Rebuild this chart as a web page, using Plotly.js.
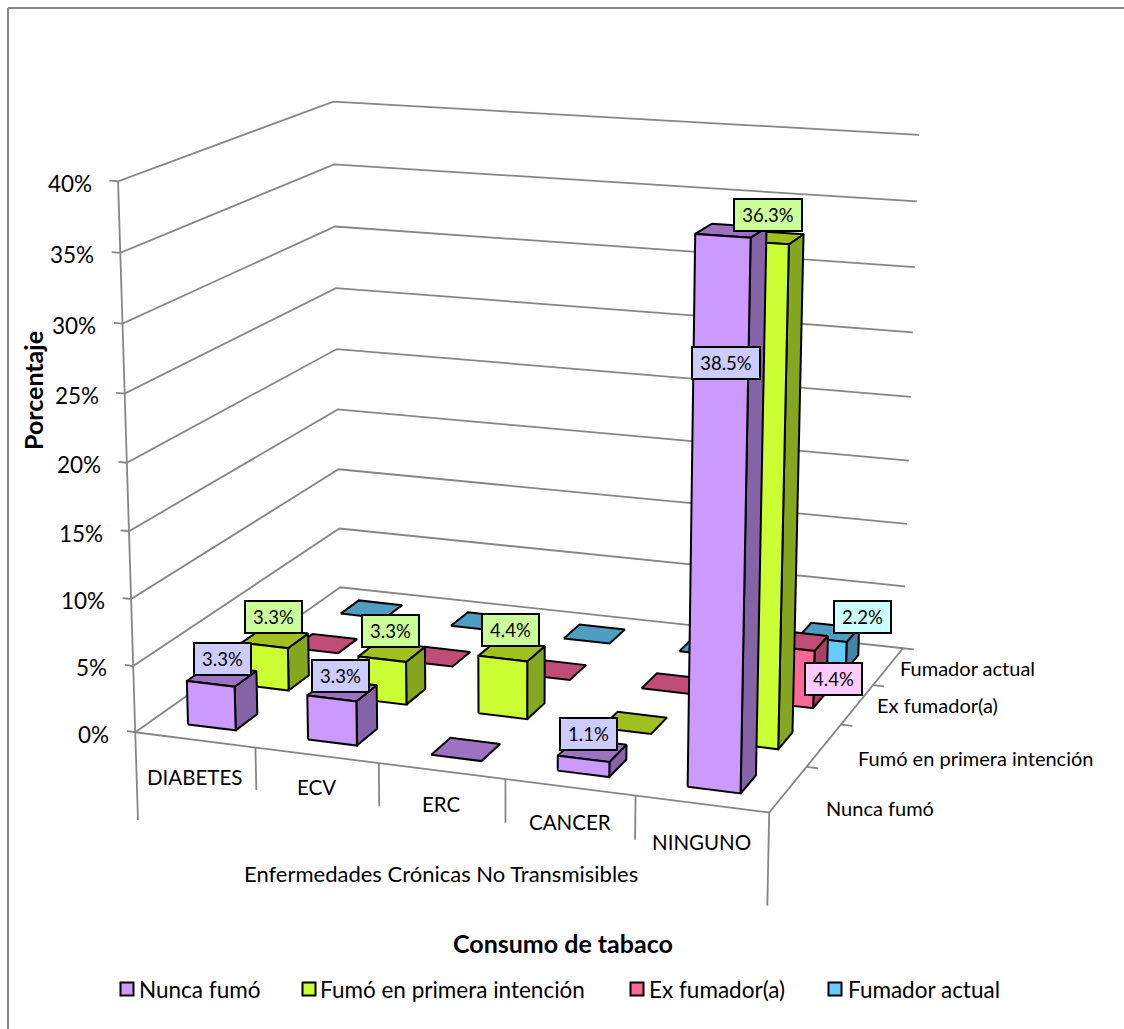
<!DOCTYPE html>
<html><head><meta charset="utf-8">
<script src="https://cdn.plot.ly/plotly-3.0.1.min.js"></script>
<style>html,body{margin:0;padding:0;background:#fff;overflow:hidden}#chart{width:1124px;height:1029px}</style>
</head><body><div id="chart"></div>
<script>
var categories = ["DIABETES","ECV","ERC","CANCER","NINGUNO"];
var seriesNames = ["Nunca fumó","Fumó en primera intención","Ex fumador(a)","Fumador actual"];
var nuncaFumo = [3.3,3.3,0,1.1,38.5];
var fumoPrimera = [3.3,3.3,4.4,0,36.3];
var exFumador = [0,0,0,0,4.4];
var fumadorActual = [0,0,0,0,2.2];
var valueTicks = [0,5,10,15,20,25,30,35,40];

var seriesValues = [nuncaFumo,fumoPrimera,exFumador,fumadorActual];
var frontCol = ["#CC99FF","#CCFF33","#FF6699","#66CCFF"];
var sideCol  = ["#8464A6","#85A61F","#A64263","#4285A6"];
var topCol   = ["#9E72C2","#A0C020","#BF4D78","#4F9DC0"];
var labelCol = ["#CCCCFF","#CCFF99","#FFCCFF","#CCFFFF"];
var FONT = "Lato, Carlito, sans-serif";

// view of the 3-D box: [category, series, value] -> page pixel
var viewCal = [[0,0,0,135.5,732.3],[0,0,40,118,181],[0,4,0,340,587.3],[0,4,40,333.3,101.7],
               [5,4,0,903.3,648],[5,4,40,919,135],[5,0,0,769,812.7]];
function solveView(){
  var A=[],b=[];
  viewCal.forEach(function(p){var X=p[0],Y=p[1],Z=p[2],u=p[3],w=p[4];
    A.push([X,Y,Z,1,0,0,0,0,-u*X,-u*Y,-u*Z]);b.push(u);
    A.push([0,0,0,0,X,Y,Z,1,-w*X,-w*Y,-w*Z]);b.push(w);});
  var n=11,M=[],i,j,k;
  for(i=0;i<n;i++){M.push([]);for(j=0;j<=n;j++){var t=0;
    for(k=0;k<A.length;k++)t+=A[k][i]*(j<n?A[k][j]:b[k]);M[i].push(t);}}
  for(i=0;i<n;i++){var m=i;for(k=i+1;k<n;k++)if(Math.abs(M[k][i])>Math.abs(M[m][i]))m=k;
    var sw=M[i];M[i]=M[m];M[m]=sw;
    for(k=0;k<n;k++)if(k!==i){var f=M[k][i]/M[i][i];for(j=i;j<=n;j++)M[k][j]-=f*M[i][j];}}
  var h=[];for(i=0;i<n;i++)h.push(M[i][n]/M[i][i]);return h;
}
var H=solveView();
function P(c,s,v){var d=H[8]*c+H[9]*s+H[10]*v+1;
  return [(H[0]*c+H[1]*s+H[2]*v+H[3])/d,(H[4]*c+H[5]*s+H[6]*v+H[7])/d];}

var traces=[];
function line(pts,col,w,name){traces.push({type:"scatter",mode:"lines",x:pts.map(function(p){return p?p[0]:null;}),
  y:pts.map(function(p){return p?p[1]:null;}),line:{color:col,width:w},hoverinfo:"skip",showlegend:false,name:name||""});}
var GRID="#868686",grid=[];
valueTicks.forEach(function(v){grid.push(P(-0.07,0,v),P(0,0,v),P(0,4,v),P(5,4,v),null);});
grid.push(P(0,0,0),P(0,0,40),null);
grid.push(P(0,0,0),P(5,0,0),P(5,4,0),P(5.09,4,0),null);
for(var i=1;i<4;i++)grid.push(P(5,i,0),P(5.09,i,0),null);
line(grid,GRID,1.8,"grid");
var drops=[];
drops.push(P(0,0,0),P(0,0,-6.7),null,P(5,0,0),P(5,0,-6.7),null);
for(i=1;i<5;i++)drops.push(P(i,0,0),P(i,0,-3.2),null);
line(drops,GRID,1.8,"axis");

var W0=0.3,W1=0.7;
for(var si=3;si>=0;si--){(function(s){
  var side=[],topF=[],front=[];
  seriesValues[s].forEach(function(val,c){
    var l=c+W0,r=c+W1,f=s+W0,b=s+W1;
    topF.push(P(l,f,val),P(r,f,val),P(r,b,val),P(l,b,val),P(l,f,val),null);
    if(val>0){
      side.push(P(r,f,0),P(r,b,0),P(r,b,val),P(r,f,val),P(r,f,0),null);
      front.push(P(l,f,0),P(r,f,0),P(r,f,val),P(l,f,val),P(l,f,0),null);
    }
  });
  [[side,sideCol[s]],[topF,topCol[s]],[front,frontCol[s]]].forEach(function(a){
    if(!a[0].length)return;
    traces.push({type:"scatter",mode:"lines",name:seriesNames[s],fill:"toself",fillcolor:a[1],
      x:a[0].map(function(p){return p?p[0]:null;}),y:a[0].map(function(p){return p?p[1]:null;}),
      line:{color:"#000",width:2,join:"round"},hoverinfo:"skip",showlegend:false});
  });
})(si);}

var ann=[];
function T(x,y,text,size,o){var a={x:x,y:y,text:text,showarrow:false,xref:"x",yref:"y",xanchor:"center",yanchor:"middle",
  font:{family:FONT,size:size,color:"#000"}};for(var k in o)a[k]=o[k];ann.push(a);}

valueTicks.forEach(function(v){var p=P(0,0,v);T(p[0]-24,p[1]+2,v+"%",22.5,{xanchor:"right"});});
var catLabelDy=[37,32,33,35,38];
categories.forEach(function(n,c){var p=P(c+0.5,0,0);T(p[0],p[1]+catLabelDy[c],n,20.5);});
var serLabelOff=[[36,19],[32,13],[18,0],[10,2]];
seriesNames.forEach(function(n,s){var p=P(5,s+0.5,0);T(p[0]+serLabelOff[s][0],p[1]+serLabelOff[s][1],n,20,{xanchor:"left"});});
T(441,873,"Enfermedades Crónicas No Transmisibles",22);
T(563,943,"Consumo de tabaco",25,{font:{family:FONT,size:25,color:"#000",weight:700}});
T(33,391,"Porcentaje",25,{textangle:-90,font:{family:FONT,size:25,color:"#000",weight:700}});

// data labels: offset of the box from the bar's top centre
var labelOff=[
 [[1,-17],[-2,-14],null,[-4,-16],[-5,132]],
 [[-1,-21],[-1,-21],[-1,-21],null,[-2,-22]],
 [null,null,null,null,[37,38]],
 [null,null,null,null,[34,-15]]];
seriesValues.forEach(function(vals,s){vals.forEach(function(val,c){
  if(!(val>0))return;
  var p=P(c+0.5,s+0.5,val),o=labelOff[s][c],txt=val.toFixed(1)+"%";
  T(p[0]+o[0],p[1]+o[1],txt,18.5,{bgcolor:labelCol[s],bordercolor:"#000",borderwidth:2,borderpad:0,
    width:txt.length>4?66:55,height:30,align:"center",valign:"middle"});
});});

// legend
var legendSwatchX=[127,309,637,835],legendTextX=[137,318,647,846],LEGEND_Y=989;
traces.push({type:"scatter",mode:"markers",x:legendSwatchX,y:legendSwatchX.map(function(){return LEGEND_Y;}),
  marker:{symbol:"square",size:13,color:frontCol,line:{color:"#000",width:2}},hoverinfo:"skip",showlegend:false,name:"leyenda"});
seriesNames.forEach(function(n,s){T(legendTextX[s],LEGEND_Y,n,22.5,{xanchor:"left"});});

var shapes=[{type:"line",xref:"x",yref:"y",x0:8,y0:8,x1:1124,y1:8,line:{color:GRID,width:2}},
            {type:"line",xref:"x",yref:"y",x0:8,y0:8,x1:8,y1:1029,line:{color:GRID,width:2}}];
Plotly.newPlot("chart",traces,{width:1124,height:1029,margin:{l:0,r:0,t:0,b:0},paper_bgcolor:"#fff",plot_bgcolor:"#fff",showlegend:false,
  xaxis:{range:[0,1124],visible:false,fixedrange:true},yaxis:{range:[1029,0],visible:false,fixedrange:true},
  annotations:ann,shapes:shapes},{displayModeBar:false,staticPlot:true});
</script></body></html>
